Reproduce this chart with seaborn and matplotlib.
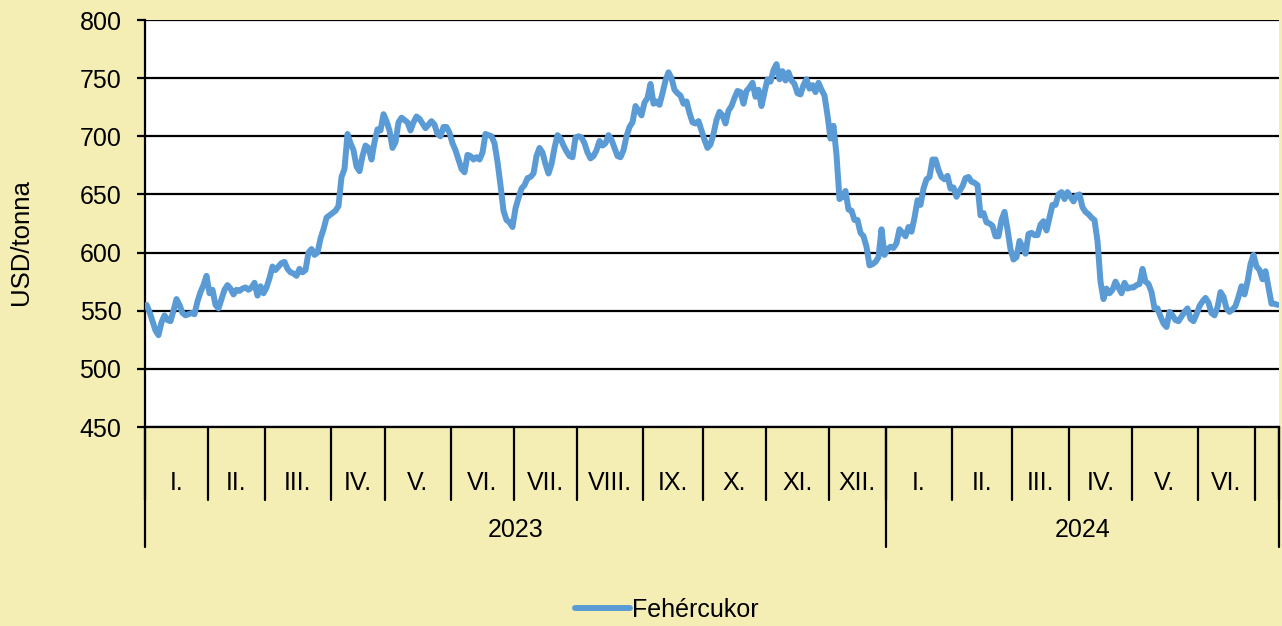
import numpy as np
import pandas as pd
import matplotlib
matplotlib.use("Agg")
import matplotlib.pyplot as plt
import matplotlib.transforms as mtransforms
import seaborn as sns

# === Data (daily prices, USD/tonna) ===
jan23 = [555, 549, 541, 533, 529, 540, 546, 542, 541, 550, 560, 555, 548, 546, 547, 548, 547, 558, 566, 572, 580]
feb23 = [565, 568, 555, 552, 560, 568, 572, 569, 564, 568, 567, 569, 570, 568, 570, 574, 563, 571, 565]
mar23 = [570, 578, 588, 585, 588, 591, 592, 586, 583, 582, 580, 586, 583, 585, 600, 603, 598, 600, 612, 620, 630, 632]
apr23 = [634, 636, 640, 665, 672, 702, 694, 688, 674, 670, 683, 692, 690, 680, 695, 706, 705, 719]
may23 = [713, 705, 690, 695, 712, 716, 714, 712, 705, 712, 717, 715, 711, 707, 710, 713, 710, 702, 700, 708, 708, 703]
jun23 = [694, 688, 680, 672, 669, 684, 683, 680, 682, 680, 686, 702, 701, 700, 694, 678, 658, 636, 628, 626, 622]
jul23 = [638, 647, 655, 658, 664, 665, 668, 683, 690, 686, 676, 668, 676, 690, 701, 698, 692, 687, 683, 682, 699]
aug23 = [700, 699, 694, 686, 681, 683, 688, 696, 692, 694, 701, 697, 690, 683, 682, 688, 700, 708, 712, 726, 722, 718]
sep23 = [729, 733, 745, 728, 730, 727, 737, 748, 755, 750, 740, 737, 735, 728, 730, 720, 712, 711, 713, 705]
oct23 = [697, 690, 693, 702, 714, 721, 718, 711, 722, 726, 733, 739, 738, 728, 739, 742, 746, 734, 740, 726, 738]
nov23 = [749, 747, 757, 762, 749, 756, 748, 755, 748, 745, 737, 736, 744, 749, 741, 744, 738, 746, 740, 735, 718]
dec23 = [698, 709, 684, 646, 648, 653, 637, 636, 628, 628, 617, 614, 605, 589, 590, 592, 596, 620, 598]
jan24 = [603, 605, 604, 608, 620, 617, 614, 622, 618, 630, 645, 641, 655, 663, 665, 680, 680, 671, 665, 663, 666, 655]
feb24 = [656, 648, 653, 657, 664, 665, 661, 660, 658, 632, 634, 626, 625, 623, 614, 614, 628, 635, 620, 603]
mar24 = [594, 596, 610, 605, 599, 616, 617, 615, 615, 624, 627, 619, 630, 641, 641, 650, 652, 646, 652]
apr24 = [648, 644, 649, 650, 639, 635, 633, 630, 628, 610, 575, 560, 569, 565, 568, 575, 570, 565, 574, 569, 570]
may24 = [570, 572, 573, 586, 575, 573, 566, 552, 552, 545, 539, 536, 549, 546, 542, 541, 545, 549, 552, 543, 541, 547]
jun24 = [554, 558, 561, 557, 548, 546, 553, 566, 562, 552, 549, 551, 554, 562, 571, 564, 575, 590, 598]
jul24 = [588, 585, 577, 584, 570, 556, 556, 555]

months = [jan23, feb23, mar23, apr23, may23, jun23, jul23, aug23, sep23, oct23, nov23, dec23,
          jan24, feb24, mar24, apr24, may24, jun24, jul24]
month_labels = ["I.", "II.", "III.", "IV.", "V.", "VI.", "VII.", "VIII.", "IX.", "X.", "XI.", "XII.",
                "I.", "II.", "III.", "IV.", "V.", "VI.", ""]
years = ["2023", "2024"]
year_months = [12, 7]
series_name = "Fehércukor"

prices = np.concatenate(months)
df = pd.DataFrame({"nap": np.arange(len(prices)), "ar": prices})

# === Style ===
BG = "#F5EEB4"
BLUE = "#5B9BD5"
sns.set_style("white")
plt.rcParams["font.family"] = ["Liberation Sans", "DejaVu Sans"]
plt.rcParams["text.color"] = "black"
plt.rcParams["ytick.color"] = "black"
plt.rcParams["axes.labelcolor"] = "black"

fig = plt.figure(figsize=(12.82, 6.26), dpi=100, facecolor=BG)
ax = fig.add_axes([145 / 1282, 1 - 427 / 626, 1134 / 1282, 407 / 626])
ax.set_facecolor("white")

sns.lineplot(data=df, x="nap", y="ar", color=BLUE, lw=4.3, ax=ax, legend=False,
             label=series_name, zorder=3)

n = len(prices)
ax.set_xlim(-0.5, n - 0.5)
ax.set_ylim(450, 800)
ax.set_yticks(np.arange(450, 801, 50))
ax.yaxis.grid(True, color="black", lw=1.6)
ax.set_axisbelow(True)
for s in ["top", "right"]:
    ax.spines[s].set_visible(False)
for s in ["left", "bottom"]:
    ax.spines[s].set_color("black")
    ax.spines[s].set_linewidth(1.6)
ax.tick_params(axis="y", direction="out", length=6, width=1.6, color="black",
               labelsize=18, pad=11, left=True)
ax.set_xticks([])
ax.set_xlabel("")
ax.set_ylabel("USD/tonna", fontsize=18.5)
ax.yaxis.set_label_coords(-112 / 1134, 0.455)

# === Month / year axis below the plot ===
trans = mtransforms.blended_transform_factory(ax.transData, ax.transAxes)
h_month = 73 / 407
h_year = 120 / 407
counts = [len(m) for m in months]
edges = np.concatenate([[0], np.cumsum(counts)]) - 0.5

for e in edges:
    ax.plot([e, e], [0, -h_month], color="black", lw=1.6, transform=trans, clip_on=False)
for i, lab in enumerate(month_labels):
    mid = (edges[i] + edges[i + 1]) / 2
    ax.text(mid, -56 / 407, lab, transform=trans, ha="center", va="center", fontsize=18)

yedges = np.concatenate([[0], np.cumsum(year_months)])
for ye in yedges:
    x = edges[ye]
    ax.plot([x, x], [0, -h_year], color="black", lw=1.6, transform=trans, clip_on=False)
for k, y in enumerate(years):
    mid = (edges[yedges[k]] + edges[yedges[k + 1]]) / 2
    ax.text(mid, -103 / 407, y, transform=trans, ha="center", va="center", fontsize=18)

# === Legend ===
handles, labels = ax.get_legend_handles_labels()
fig.legend(handles, labels, loc="center", bbox_to_anchor=(0.52, 1 - 610 / 626), frameon=False,
           fontsize=18, handlelength=2.2, handletextpad=0.1)

fig.savefig("out.png", dpi=100, facecolor=BG)
